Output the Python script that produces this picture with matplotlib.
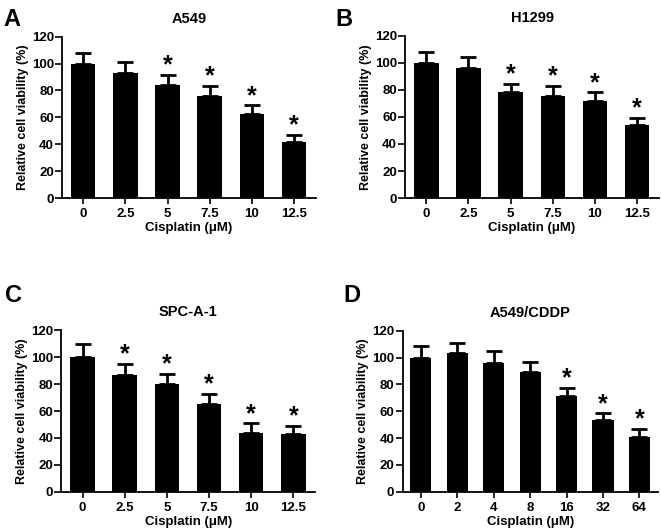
import matplotlib
matplotlib.use('Agg')
import matplotlib.pyplot as plt
import numpy as np

plt.rcParams['font.family'] = ['Liberation Sans', 'DejaVu Sans']
plt.rcParams['font.weight'] = 'bold'

# panel data
dose_a = ['0', '2.5', '5', '7.5', '10', '12.5']
a549 = [100, 93, 84, 76, 62.5, 41.5]
a549_err = [8, 8, 7.5, 7.5, 6.5, 5.8]
a549_sig = [False, False, True, True, True, True]

h1299 = [100, 96, 78.5, 75.5, 72, 54]
h1299_err = [8, 8, 6, 7.5, 6, 5.5]
h1299_sig = [False, False, True, True, True, True]

spca1 = [100, 87, 80, 65.5, 44, 43]
spca1_err = [10, 8, 7.5, 7.5, 7, 6]
spca1_sig = [False, True, True, True, True, True]

dose_d = ['0', '2', '4', '8', '16', '32', '64']
a549cddp = [100, 103.5, 96, 89.5, 71.5, 53.5, 40.5]
a549cddp_err = [8.5, 7.5, 9, 7, 6, 5, 6.5]
a549cddp_sig = [False, False, False, False, True, True, True]

panels = [
    ('A', 'A549', dose_a, a549, a549_err, a549_sig, [0.094, 0.626, 0.384, 0.305], (3, 8)),
    ('B', 'H1299', dose_a, h1299, h1299_err, h1299_sig, [0.613, 0.626, 0.384, 0.307], (335, 8)),
    ('C', 'SPC-A-1', dose_a, spca1, spca1_err, spca1_sig, [0.093, 0.072, 0.384, 0.305], (5, 284)),
    ('D', 'A549/CDDP', dose_d, a549cddp, a549cddp_err, a549cddp_sig, [0.609, 0.072, 0.387, 0.304], (343, 284)),
]

fig = plt.figure(figsize=(6.61, 5.30), dpi=100)

for letter, title, doses, vals, errs, sig, rect, lpos in panels:
    ax = fig.add_axes(rect)
    x = np.arange(len(vals))
    ax.bar(x, vals, width=0.58, color='black')
    ax.errorbar(x, vals, yerr=[np.zeros(len(errs)), errs], fmt='none',
                ecolor='black', elinewidth=2, capsize=6, capthick=2)
    for xi, v, e, s in zip(x, vals, errs, sig):
        if s:
            ax.annotate('*', (xi, v + e), xytext=(0, -2), textcoords='offset points',
                        ha='center', va='bottom', fontsize=18, fontweight='bold')
    ax.set_xlim(-0.5, len(vals) - 0.48)
    ax.set_ylim(0, 120)
    ax.set_yticks(range(0, 121, 20))
    ax.set_xticks(x)
    ax.set_xticklabels(doses)
    ax.spines['top'].set_visible(False)
    ax.spines['right'].set_visible(False)
    ax.spines['left'].set_linewidth(1.3)
    ax.spines['bottom'].set_linewidth(1.3)
    ax.tick_params(axis='y', direction='out', length=5, width=1.2,
                   labelsize=9.5, pad=1)
    ax.tick_params(axis='x', direction='out', length=4, width=1.2,
                   labelsize=9.5, pad=3)
    ax.set_ylabel('Relative cell viability (%)', fontsize=9,
                  fontweight='bold', labelpad=2)
    ax.set_xlabel('Cisplatin (\u03bcM)', fontsize=9.5, fontweight='bold',
                  labelpad=1.5)
    ax.set_title(title, fontsize=10.5, fontweight='bold', pad=10)
    fig.text(lpos[0] / 661, 1 - lpos[1] / 530, letter, fontsize=17,
             fontweight='bold', ha='left', va='top')

fig.savefig('out.png', dpi=100)
